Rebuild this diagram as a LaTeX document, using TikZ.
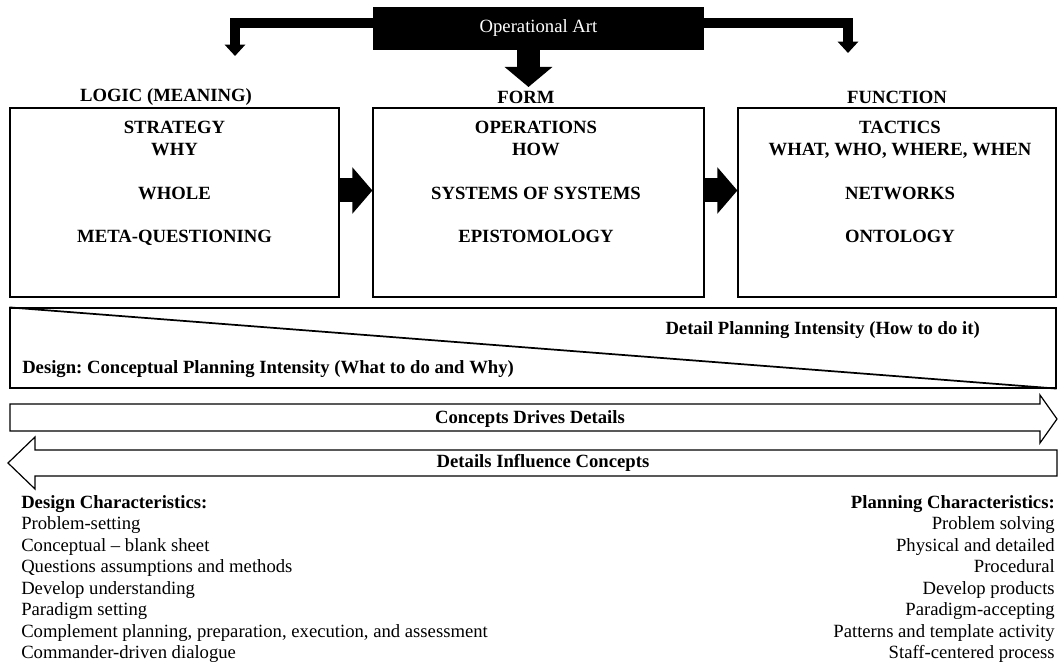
\documentclass[tikz,border=0pt]{standalone}
\usepackage{fontspec}
\setmainfont{Liberation Serif}
\usetikzlibrary{arrows.meta, positioning}
\frenchspacing

\begin{document}
\begin{tikzpicture}[x=0.75pt, y=-0.75pt, every node/.style={inner sep=0pt},
    box/.style={draw, line width=0.9pt, minimum height=141.75pt},
    boxtxt/.style={font=\bfseries\fontsize{14}{16.3}\selectfont, align=center, anchor=north},
    headtxt/.style={font=\bfseries\fontsize{14}{16}\selectfont},
    bandtxt/.style={font=\bfseries\fontsize{14}{16}\selectfont},
    listtxt/.style={font=\fontsize{14}{16.1}\selectfont},
    sidearrow/.style={line width=7.5pt, -{Triangle[width=15pt, length=8.5pt]}},
    midarrow/.style={line width=17pt, -{Triangle[width=35pt, length=15pt]}},
    boxarrow/.style={line width=18pt, -{Triangle[width=34pt, length=15pt]}}]

    \useasboundingbox (0,0) rectangle (1058,670);

    % Operational Art
    \node[fill=black, text=white, font=\fontsize{14}{16}\selectfont,
        minimum width=248.25pt, minimum height=32.25pt] (art) at (538.5,28.5) {Operational Art};
    \coordinate (tipL) at (235,56);
    \coordinate (tipR) at (848,53);
    \coordinate (tipC) at (528.5,87);
    \draw[sidearrow] ([yshift=4.1pt]art.west) -| (tipL);
    \draw[sidearrow] ([yshift=4.1pt]art.east) -| (tipR);
    \draw[midarrow] (art.south -| tipC) -- (tipC);

    % intestazioni
    \node[headtxt] (hlogic) at (166,97) {LOGIC (MEANING)};
    \node[headtxt] (hform) at (526,97) {FORM};
    \node[headtxt] (hfunc) at (897,97) {FUNCTION};

    % riquadri
    \node[box, minimum width=246.75pt] (logic) at (174.5,202.5) {};
    \node[box, minimum width=248.25pt] (form) at (538.5,202.5) {};
    \node[box, minimum width=238.5pt] (func) at (897,202.5) {};
    \node[boxtxt] (tlogic) at (174.5,121) {STRATEGY\\WHY\\[16.5pt]WHOLE\\[16.5pt]META-QUESTIONING};
    \node[boxtxt] (tform) at (536,121) {OPERATIONS\\HOW\\[16.5pt]SYSTEMS OF SYSTEMS\\[16.5pt]EPISTOMOLOGY};
    \node[boxtxt] (tfunc) at (900,121) {TACTICS\\WHAT, WHO, WHERE, WHEN\\[16.5pt]NETWORKS\\[16.5pt]ONTOLOGY};
    \draw[boxarrow] ([yshift=9pt]logic.east) -- ([yshift=9pt]form.west);
    \draw[boxarrow] ([yshift=9pt]form.east) -- ([yshift=9pt]func.west);

    % intensita
    \node[draw, line width=0.9pt, minimum width=784.5pt, minimum height=60pt] (band) at (533,348) {};
    \draw[line width=1.3pt] (band.north west) -- (band.south east);
    \node[bandtxt, anchor=east] (detail) at (980,330) {Detail Planning Intensity (How to do it)};
    \node[bandtxt, anchor=west] (design) at (22,369) {Design: Conceptual Planning Intensity (What to do and Why)};

    % frecce concetti / dettagli
    \draw[line width=0.9pt] (10,404) -- (1040,404) -- (1040,395) -- (1057,419) -- (1040,443)
        -- (1040,431) -- (10,431) -- cycle;
    \node[bandtxt] (drive) at (530,419) {Concepts Drives Details};
    \draw[line width=0.9pt] (1057,450) -- (35,450) -- (35,437) -- (8,463) -- (35,489)
        -- (35,476) -- (1057,476) -- cycle;
    \node[bandtxt] (influence) at (543,463) {Details Influence Concepts};

    % caratteristiche
    \node[listtxt, align=left, anchor=north west] (dlist) at (21,495) {\textbf{Design Characteristics:}\\
        Problem-setting\\Conceptual -- blank sheet\\Questions assumptions and methods\\
        Develop understanding\\Paradigm setting\\
        Complement planning, preparation, execution, and assessment\\Commander-driven dialogue};
    \node[listtxt, align=right, anchor=north east] (plist) at (1055,495) {\textbf{Planning Characteristics:}\\
        Problem solving\\Physical and detailed\\Procedural\\Develop products\\
        Paradigm-accepting\\Patterns and template activity\\Staff-centered process};
\end{tikzpicture}
\end{document}
